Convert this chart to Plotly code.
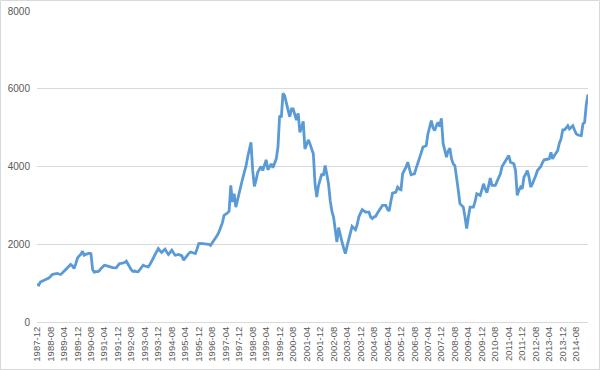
import plotly.graph_objects as go

start_year, start_month = 1987, 12
values = [
    970, 950, 1030, 1050, 1060, 1090, 1120, 1130, 1170, 1220, 1230, 1240,
    1250, 1235, 1222, 1260, 1300, 1333, 1380, 1430, 1479, 1440, 1376, 1500,
    1640, 1700, 1740, 1820, 1718, 1740, 1760, 1770, 1760, 1350, 1280, 1300,
    1290, 1320, 1376, 1420, 1461, 1450, 1430, 1418, 1410, 1400, 1395, 1393,
    1450, 1505, 1510, 1520, 1530, 1564, 1480, 1393, 1340, 1300, 1310, 1295,
    1290, 1350, 1420, 1461, 1440, 1430, 1418, 1480, 1546, 1640, 1730, 1803,
    1890, 1830, 1787, 1830, 1872, 1800, 1736, 1790, 1846, 1780, 1718, 1725,
    1736, 1720, 1700, 1590, 1650, 1718, 1760, 1800, 1790, 1775, 1760, 1880,
    2018, 2020, 2015, 2018, 2020, 2018, 2000, 1974, 2030, 2090, 2146, 2230,
    2315, 2430, 2550, 2743, 2770, 2803, 2850, 3513, 3085, 3300, 2956, 3150,
    3385, 3500, 3684, 3850, 4000, 4238, 4450, 4623, 3900, 3487, 3650, 3854,
    3930, 4000, 3897, 4050, 4172, 3915, 4000, 4069, 3967, 4080, 4197, 4495,
    5307, 5264, 5879, 5820, 5600, 5450, 5282, 5479, 5479, 5300, 5197, 5367,
    4879, 5000, 5161, 4453, 4600, 4684, 4581, 4450, 4325, 3556, 3213, 3500,
    3700, 3813, 3769, 4025, 3800, 3556, 3128, 2850, 2700, 2300, 2059, 2428,
    2200, 2059, 1900, 1760, 1950, 2146, 2300, 2461, 2420, 2377, 2500, 2700,
    2800, 2890, 2860, 2828, 2828, 2828, 2700, 2659, 2700, 2718, 2800, 2872,
    2930, 3000, 3000, 3000, 2900, 2854, 3100, 3315, 3330, 3341, 3469, 3420,
    3402, 3813, 3900, 3982, 4110, 3950, 3787, 3800, 3813, 3950, 4069, 4212,
    4350, 4495, 4520, 4538, 4838, 5000, 5179, 5000, 4923, 5050, 5136, 5033,
    5238, 4600, 4453, 4238, 4400, 4469, 4200, 4069, 4025, 3750, 3400, 3043,
    2990, 2956, 2700, 2402, 2700, 2956, 2956, 2956, 3100, 3300, 3280, 3256,
    3400, 3556, 3420, 3325, 3500, 3700, 3513, 3513, 3513, 3615, 3700, 3813,
    4000, 4069, 4150, 4197, 4282, 4110, 4090, 4069, 3897, 3256, 3385, 3469,
    3427, 3726, 3800, 3897, 3726, 3469, 3550, 3641, 3770, 3897, 3950, 4000,
    4100, 4172, 4180, 4190, 4197, 4366, 4197, 4280, 4341, 4410, 4600, 4710,
    4940, 4940, 4990, 5051, 4966, 5010, 5051, 4940, 4838, 4810, 4795, 4795,
    5095, 5136, 5600, 5850,
]

months = []
y, m = start_year, start_month
for _ in values:
    months.append(f"{y}-{m:02d}")
    m += 1
    if m > 12:
        m = 1
        y += 1

tick_labels = months[::8]
y_ticks = [0, 2000, 4000, 6000, 8000]

W, H = 600, 370
ml, mr, mt, mb = 37, 12, 11, 48
pw, ph = W - ml - mr, H - mt - mb

fig = go.Figure()
fig.add_trace(go.Scatter(
    x=months, y=values, mode="lines",
    line=dict(color="#5b9bd5", width=2.8),
    hoverinfo="x+y",
))

fig.update_layout(
    width=W, height=H,
    margin=dict(l=ml, r=mr, t=mt, b=mb, autoexpand=False),
    paper_bgcolor="white", plot_bgcolor="white",
    showlegend=False,
    font=dict(family="Liberation Sans, Arial, sans-serif", color="#595959", size=10),
    xaxis=dict(
        type="category",
        range=[0, len(months) - 1],
        tickmode="array",
        tickvals=tick_labels,
        ticktext=tick_labels,
        tickangle=-90,
        tickfont=dict(size=9.5),
        showgrid=False,
        showline=True, linecolor="#d9d9d9", linewidth=1,
        ticks="", zeroline=False, automargin=False,
    ),
    yaxis=dict(
        range=[0, 8000],
        tickvals=y_ticks,
        showgrid=True, gridcolor="#d9d9d9", gridwidth=1,
        zeroline=False, showline=False, ticks="",
        ticklabelstandoff=6, automargin=False,
        tickfont=dict(size=10),
    ),
    shapes=[dict(
        type="rect", xref="paper", yref="paper",
        x0=(0.5 - ml) / pw, x1=(W - 0.5 - ml) / pw,
        y0=-(mb - 0.5) / ph, y1=1 + (mt - 0.5) / ph,
        line=dict(color="#d9d9d9", width=1), layer="below",
    )],
)

fig.write_html(
    "out.html",
    config={"displayModeBar": False},
    post_script="document.body.style.margin='0';document.body.style.overflow='hidden';",
)
